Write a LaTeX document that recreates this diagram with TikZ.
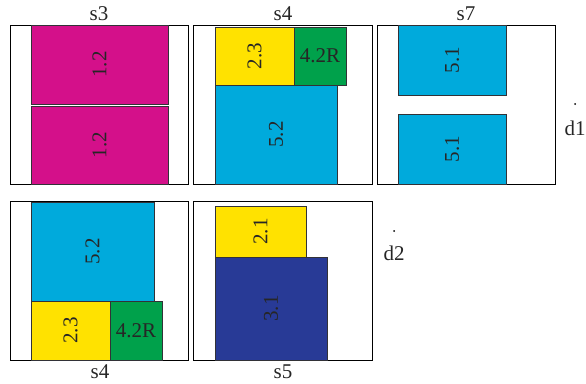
\documentclass[tikz,border=0pt]{standalone}
\usepackage{fontspec}
\setmainfont{Liberation Serif}
\definecolor{cmag}{RGB}{212,16,138}
\definecolor{cyel}{RGB}{255,226,0}
\definecolor{cgrn}{RGB}{0,161,75}
\definecolor{ccyn}{RGB}{0,170,220}
\definecolor{cnav}{RGB}{40,58,150}
\definecolor{edge}{RGB}{50,50,55}
\begin{document}
\begin{tikzpicture}[x=1pt,y=-1pt,
  outer/.style={draw=black,line width=0.9pt,fill=white,inner sep=0pt,rectangle},
  part/.style={draw=edge,line width=0.9pt,inner sep=0pt,rectangle},
  lbl/.style={font=\fontsize{21}{24}\selectfont,text=black!85,inner sep=0pt},
  rl/.style={lbl,rotate=90},
  dotmark/.style={circle,fill=black,inner sep=0pt,minimum size=2pt}]
\useasboundingbox (0,0) rectangle (586,383);
% top row
\node[outer,minimum width=178pt,minimum height=159pt] (s3) at (99,104.5) {};
\node[part,fill=cmag,minimum width=137pt,minimum height=79pt] (m1) at (99.5,64.5) {};
\node[part,fill=cmag,minimum width=137pt,minimum height=78pt] (m2) at (99.5,145) {};
\node[outer,minimum width=179pt,minimum height=159pt] (s4t) at (282.5,104.5) {};
\node[part,fill=ccyn,minimum width=122pt,minimum height=99pt] (c1) at (276,134.5) {};
\node[part,fill=cyel,minimum width=79pt,minimum height=58pt] (y1) at (254.5,56) {};
\node[part,fill=cgrn,minimum width=52pt,minimum height=58pt] (g1) at (320,56) {};
\node[outer,minimum width=178pt,minimum height=159pt] (s7) at (466,104.5) {};
\node[part,fill=ccyn,minimum width=108pt,minimum height=70pt] (c2) at (452,60) {};
\node[part,fill=ccyn,minimum width=108pt,minimum height=70pt] (c3) at (452,149) {};
% bottom row
\node[outer,minimum width=178pt,minimum height=159pt] (s4b) at (99,280.5) {};
\node[part,fill=ccyn,minimum width=123pt,minimum height=99pt] (c4) at (92.5,251.5) {};
\node[part,fill=cyel,minimum width=79pt,minimum height=59pt] (y2) at (70.5,330.5) {};
\node[part,fill=cgrn,minimum width=52pt,minimum height=59pt] (g2) at (136,330.5) {};
\node[outer,minimum width=179pt,minimum height=159pt] (s5) at (282.5,280.5) {};
\node[part,fill=cnav,minimum width=112pt,minimum height=103pt] (n1) at (271,308.5) {};
\node[part,fill=cyel,minimum width=91pt,minimum height=51pt] (y3) at (260.5,231.5) {};
% labels inside
\node[rl] (tm1) at (m1.center) {1.2};
\node[rl] (tm2) at (m2.center) {1.2};
\node[rl] (ty1) at (y1.center) {2.3};
\node[lbl] (tg1) at (g1.center) {4.2R};
\node[rl] (tc1) at (c1.center) {5.2};
\node[rl] (tc2) at (c2.center) {5.1};
\node[rl] (tc3) at (c3.center) {5.1};
\node[rl] (tc4) at (c4.center) {5.2};
\node[rl] (ty2) at (y2.center) {2.3};
\node[lbl] (tg2) at (g2.center) {4.2R};
\node[rl] (ty3) at (y3.center) {2.1};
\node[rl] (tn1) at (n1.center) {3.1};
% titles
\node[lbl] (ls3) at (99,14) {s3};
\node[lbl] (ls4t) at (283,14) {s4};
\node[lbl] (ls7) at (466,14) {s7};
\node[lbl] (ls4b) at (100,372) {s4};
\node[lbl] (ls5) at (283,372) {s5};
\node[dotmark] (p1) at (575,104) {};
\node[lbl] (d1) at (575,128) {d1};
\node[dotmark] (p2) at (394,231) {};
\node[lbl] (d2) at (394,253) {d2};
\end{tikzpicture}
\end{document}
